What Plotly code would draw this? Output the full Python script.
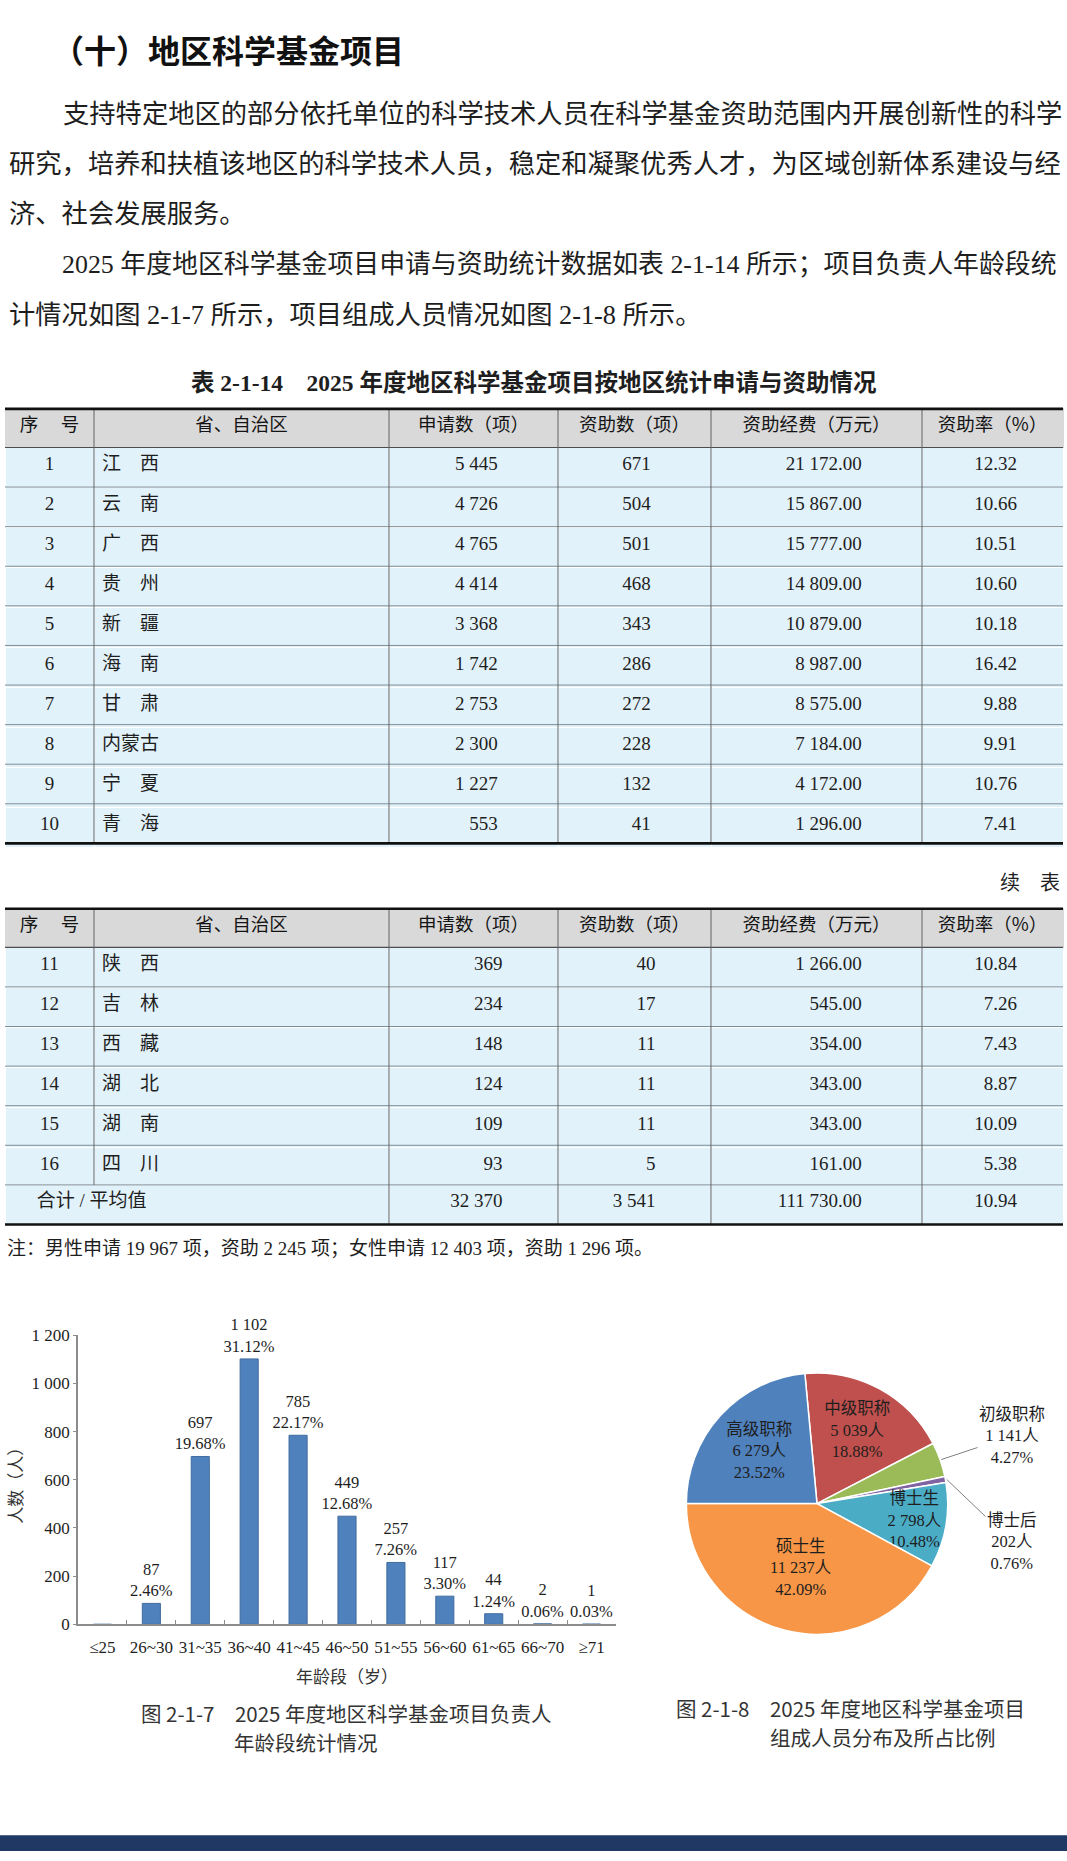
import math
import plotly.graph_objects as go

W, H = 1067, 1861

# ---------------- data ----------------
headers = ["序\u3000 号", "省、自治区", "申请数（项）", "资助数（项）", "资助经费（万元）", "资助率（%）"]

seq1 = [1, 2, 3, 4, 5, 6, 7, 8, 9, 10]
provinces1 = ["江\u3000西", "云\u3000南", "广\u3000西", "贵\u3000州", "新\u3000疆",
              "海\u3000南", "甘\u3000肃", "内蒙古", "宁\u3000夏", "青\u3000海"]
applications1 = [5445, 4726, 4765, 4414, 3368, 1742, 2753, 2300, 1227, 553]
funded1 = [671, 504, 501, 468, 343, 286, 272, 228, 132, 41]
funding1 = [21172.00, 15867.00, 15777.00, 14809.00, 10879.00, 8987.00, 8575.00, 7184.00, 4172.00, 1296.00]
rate1 = [12.32, 10.66, 10.51, 10.60, 10.18, 16.42, 9.88, 9.91, 10.76, 7.41]

seq2 = [11, 12, 13, 14, 15, 16]
provinces2 = ["陕\u3000西", "吉\u3000林", "西\u3000藏", "湖\u3000北", "湖\u3000南", "四\u3000川"]
applications2 = [369, 234, 148, 124, 109, 93]
funded2 = [40, 17, 11, 11, 11, 5]
funding2 = [1266.00, 545.00, 354.00, 343.00, 343.00, 161.00]
rate2 = [10.84, 7.26, 7.43, 8.87, 10.09, 5.38]

total_label = "合计 / 平均值"
total_applications = 32370
total_funded = 3541
total_funding = 111730.00
total_rate = 10.94

age_groups = ["≤25", "26~30", "31~35", "36~40", "41~45", "46~50", "51~55", "56~60", "61~65", "66~70", "≥71"]
age_counts = [0, 87, 697, 1102, 785, 449, 257, 117, 44, 2, 1]
age_pcts = [None, 2.46, 19.68, 31.12, 22.17, 12.68, 7.26, 3.30, 1.24, 0.06, 0.03]
y_ticks = [0, 200, 400, 600, 800, 1000, 1200]

member_labels = ["中级职称", "初级职称", "博士后", "博士生", "硕士生", "高级职称"]
member_counts = [5039, 1141, 202, 2798, 11237, 6279]
member_colors = ["#C0504D", "#9BBB59", "#8064A2", "#4BACC6", "#F79646", "#4F81BD"]

# ---------------- helpers ----------------
def fx(x):
    return x / W

def fy(y):
    return 1 - y / H

def thou(n):
    return f"{n:,}".replace(",", " ")

def money(v):
    return f"{v:,.2f}".replace(",", " ")

NB = "\u00a0"
SERIF = "Liberation Serif, Noto Sans CJK SC"
SANS = "Noto Sans CJK SC"
TXT = "#1e1e1e"
HEADER_FILL = "#D9D9D9"
CELL_FILL = "#E2F2FA"

col_edges = [5, 94, 389, 558, 711, 922, 1063]
col_widths = [col_edges[i + 1] - col_edges[i] for i in range(6)]
HH, RH = 39, 40
pads = [11, 11, 11, 8]


def cell_columns(seq, prov, app, fun, money_v, rate, p):
    return [
        [str(s) for s in seq],
        list(prov),
        [thou(v) + NB * p[0] for v in app],
        [thou(v) + NB * p[1] for v in fun],
        [money(v) + NB * p[2] for v in money_v],
        [f"{v:.2f}" + NB * p[3] for v in rate],
    ]


def make_table(top, bottom, values):
    return go.Table(
        domain=dict(x=[fx(col_edges[0]), fx(col_edges[-1])], y=[fy(bottom), fy(top)]),
        columnwidth=col_widths,
        header=dict(values=headers, fill_color=HEADER_FILL,
                    line=dict(color=HEADER_FILL, width=1),
                    font=dict(family=SANS, size=18.5, color="#141414"),
                    align="center", height=HH),
        cells=dict(values=values, fill_color=CELL_FILL,
                   line=dict(color="white", width=1),
                   font=dict(family=SERIF, size=19, color=TXT),
                   align=["center", "left", "right", "right", "right", "right"],
                   height=RH),
    )


fig = go.Figure()

top1 = 404
n1 = len(seq1)
bottom1 = top1 + HH + n1 * RH
fig.add_trace(make_table(top1, bottom1 + 8,
                         cell_columns(seq1, provinces1, applications1, funded1, funding1, rate1, pads)))

top2 = 909
n2 = len(seq2)
rows_end2 = top2 + HH + n2 * RH
bottom2 = rows_end2 + RH
pads2 = [10, 10, 11, 8]
fig.add_trace(make_table(top2, rows_end2 + 4,
                         cell_columns(seq2, provinces2, applications2, funded2, funding2, rate2, pads2)))

# total row (merged first two columns)
fig.add_trace(go.Table(
    domain=dict(x=[fx(col_edges[0]), fx(col_edges[-1])], y=[fy(bottom2 + 6), fy(rows_end2)]),
    columnwidth=[col_widths[0] + col_widths[1]] + col_widths[2:],
    header=dict(values=[NB * 5 + total_label.replace(" ", NB),
                        thou(total_applications) + NB * pads2[0],
                        thou(total_funded) + NB * pads2[1],
                        money(total_funding) + NB * pads2[2],
                        f"{total_rate:.2f}" + NB * pads2[3]],
                fill_color=CELL_FILL, line=dict(color="white", width=1),
                font=dict(family=SERIF, size=19, color=TXT),
                align=["left", "right", "right", "right", "right"], height=RH),
    cells=dict(values=[[], [], [], [], []]),
))

# ---------------- bar chart ----------------
bar_text = [("" if p is None else f"{thou(c)}<br>{p:.2f}%") for c, p in zip(age_counts, age_pcts)]
fig.add_trace(go.Bar(
    x=age_groups, y=age_counts, text=bar_text, textposition="outside",
    cliponaxis=False, constraintext="none", width=0.37,
    marker=dict(color="#4F81BD", line=dict(color="#3F6C9E", width=1)),
    textfont=dict(family=SERIF, size=16.5, color=TXT),
    showlegend=False, hoverinfo="skip",
    xaxis="x", yaxis="y",
))

# ---------------- pie chart ----------------
total_members = sum(member_counts)
rotation = -5.33
pie_cx, pie_cy, pie_r = 817, 1510, 132
inside = ["inside", "none", "none", "inside", "inside", "inside"]
fig.add_trace(go.Pie(
    labels=member_labels, values=member_counts, sort=False, direction="clockwise",
    rotation=rotation,
    domain=dict(x=[fx(pie_cx - pie_r), fx(pie_cx + pie_r)], y=[fy(pie_cy + pie_r), fy(pie_cy - pie_r)]),
    marker=dict(colors=member_colors, line=dict(color="white", width=1.5)),
    customdata=[thou(v) for v in member_counts],
    texttemplate="%{label}<br>%{customdata}人<br>%{percent:.2%}",
    textposition=inside, insidetextorientation="horizontal",
    textfont=dict(family=SERIF, size=16.5, color=TXT),
    showlegend=False, hoverinfo="skip",
))

annotations = []


def ann(text, x, y, size, family=SERIF, xanchor="left", yanchor="middle", color=TXT, **kw):
    annotations.append(dict(text=text, x=fx(x), y=fy(y), xref="paper", yref="paper",
                            xanchor=xanchor, yanchor=yanchor, showarrow=False,
                            font=dict(family=family, size=size, color=color), **kw))


# small-slice labels with leader lines
cum = 0
label_targets = {"初级职称": (1012, 1442), "博士后": (1012, 1548)}
for lab, v in zip(member_labels, member_counts):
    mid = math.radians(rotation + 360 * (cum + v / 2) / total_members)
    cum += v
    if lab in label_targets:
        tipx = pie_cx + pie_r * math.sin(mid)
        tipy = pie_cy - pie_r * math.cos(mid)
        tx, ty = label_targets[lab]
        annotations.append(dict(
            text=f"{lab}<br>{thou(v)}人<br>{100 * v / total_members:.2f}%",
            x=fx(tipx), y=fy(tipy), xref="paper", yref="paper",
            ax=tx - tipx, ay=ty - tipy, showarrow=True, arrowhead=0, arrowwidth=1,
            arrowcolor="#808080", standoff=0,
            font=dict(family=SERIF, size=16.5, color=TXT)))

# ---------------- page text ----------------
ann("<b>（十）地区科学基金项目</b>", 50, 40, 32, family=SANS, color="#111")
para_size = 26.3
ann("支持特定地区的部分依托单位的科学技术人员在科学基金资助范围内开展创新性的科学", 61, 107, para_size)
ann("研究，培养和扶植该地区的科学技术人员，稳定和凝聚优秀人才，为区域创新体系建设与经", 7, 157, para_size)
ann("济、社会发展服务。", 7, 208, para_size)
ann("2025 年度地区科学基金项目申请与资助统计数据如表 2-1-14 所示；项目负责人年龄段统", 60, 258, 25.9)
ann("计情况如图 2-1-7 所示，项目组成人员情况如图 2-1-8 所示。", 7, 310, para_size)

ann("<b>表 2-1-14\u30002025 年度地区科学基金项目按地区统计申请与资助情况</b>", 534, 377, 23.5, xanchor="center")
ann("续\u3000表", 1062, 883, 20, xanchor="right")
ann("注：男性申请 19 967 项，资助 2 245 项；女性申请 12 403 项，资助 1 296 项。", 5, 1252, 19)

# bar axis titles
ann("年龄段（岁）", 347, 1684, 17, family=SANS, xanchor="center", color="#333")
ann("人数（人）", 15, 1488, 17, family=SANS, xanchor="center", color="#333", textangle=-90)

# figure captions
ann("图 2-1-7\u30002025 年度地区科学基金项目负责人", 139, 1722, 20.5, family=SANS, color="#333")
ann("年龄段统计情况", 232, 1751, 20.5, family=SANS, color="#333")
ann("图 2-1-8\u30002025 年度地区科学基金项目", 674, 1717, 20.5, family=SANS, color="#333")
ann("组成人员分布及所占比例", 768, 1746, 20.5, family=SANS, color="#333")

# ---------------- table rules ----------------
shapes = []


def hline(y, x0, x1, color, width):
    shapes.append(dict(type="line", xref="paper", yref="paper", x0=fx(x0), x1=fx(x1),
                       y0=fy(y), y1=fy(y), line=dict(color=color, width=width)))


def vline(x, y0, y1, color, width):
    shapes.append(dict(type="line", xref="paper", yref="paper", x0=fx(x), x1=fx(x),
                       y0=fy(y0), y1=fy(y1), line=dict(color=color, width=width)))


L, R = col_edges[0], col_edges[-1]
ROW_LINE = "#7F8E97"
VCOL = "#5E6366"
# table 1
for k in range(1, n1):
    hline(top1 + HH + k * RH, L, R, ROW_LINE, 1)
hline(top1 + HH, L, R, "#4d4d4d", 1.2)
for x in col_edges[1:-1]:
    vline(x, top1, bottom1, VCOL, 1)
hline(top1, L, R, "#111", 2.6)
hline(bottom1, L, R, "#111", 2.6)
# table 2
for k in range(1, n2 + 1):
    hline(top2 + HH + k * RH, L, R, ROW_LINE, 1)
hline(top2 + HH, L, R, "#4d4d4d", 1.2)
vline(col_edges[1], top2, rows_end2, VCOL, 1)
for x in col_edges[2:-1]:
    vline(x, top2, bottom2, VCOL, 1)
hline(top2, L, R, "#111", 2.6)
hline(bottom2, L, R, "#111", 2.6)

# bottom band
shapes.append(dict(type="rect", xref="paper", yref="paper", x0=0, x1=1, y0=0, y1=fy(1845),
                   fillcolor="#1F3864", line=dict(width=0)))

fig.update_layout(
    width=W, height=H, margin=dict(l=0, r=0, t=0, b=0),
    paper_bgcolor="white", plot_bgcolor="white",
    showlegend=False,
    annotations=annotations, shapes=shapes,
    uniformtext=dict(minsize=16.5, mode="show"),
    bargap=0.63,
    xaxis=dict(domain=[fx(78), fx(616)], anchor="y", range=[-0.5, len(age_groups) - 0.5],
               showline=True, linecolor="#8C8C8C", linewidth=1.5,
               ticks="inside", ticklen=5, tickcolor="#8C8C8C", tickson="boundaries",
               tickangle=0,
               tickfont=dict(family=SERIF, size=17, color=TXT), ticklabelstandoff=7,
               showgrid=False, zeroline=False, fixedrange=True),
    yaxis=dict(domain=[fy(1632), fy(1340)], anchor="x", range=[0, 1200],
               tickvals=y_ticks, ticktext=[thou(v) for v in y_ticks],
               showline=True, linecolor="#8C8C8C", linewidth=1.5,
               ticks="outside", ticklen=3, tickcolor="#8C8C8C",
               tickfont=dict(family=SERIF, size=17, color=TXT),
               showgrid=False, zeroline=False, fixedrange=True),
)

fig.write_html("out.html", config={"displayModeBar": False},
               post_script="document.body.style.margin='0';")
